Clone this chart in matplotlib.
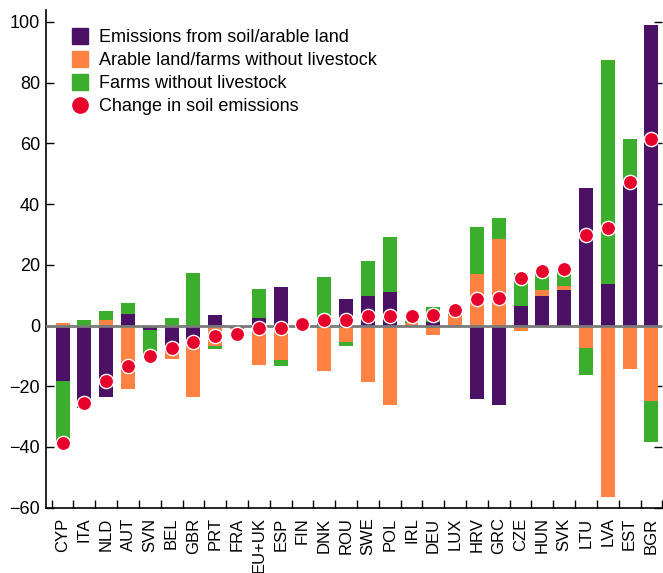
import matplotlib
matplotlib.use("Agg")
import matplotlib.pyplot as plt
import numpy as np
from matplotlib.lines import Line2D
from matplotlib import font_manager

names = [f.name for f in font_manager.fontManager.ttflist]
fam = "Liberation Sans Narrow" if "Liberation Sans Narrow" in names else "Liberation Sans"
plt.rcParams['font.family'] = [fam, 'DejaVu Sans']

countries = ["CYP", "ITA", "NLD", "AUT", "SVN", "BEL", "GBR", "PRT", "FRA", "EU+UK",
             "ESP", "FIN", "DNK", "ROU", "SWE", "POL", "IRL", "DEU", "LUX", "HRV",
             "GRC", "CZE", "HUN", "SVK", "LTU", "LVA", "EST", "BGR"]
soil = [-18.2, -27.3, -23.5, 3.9, -1.4, -8.6, -5.3, 3.3, -0.7, 2.6,
        12.8, 0.3, 0.5, 8.8, 9.8, 11.1, -0.4, 1.3, -0.4, -24.1,
        -26.2, 6.5, 9.8, 11.8, 45.4, 13.8, 47.3, 98.9]
arable = [0.7, 0.0, 1.9, -20.8, 0.0, -2.3, -18.2, -6.6, -0.3, -12.9,
          -11.3, 0.0, -14.9, -5.4, -18.7, -26.1, 0.9, -3.0, 3.5, 17.0,
          28.6, -1.8, 2.0, 1.3, -7.4, -56.4, -14.2, -24.8]
farms = [-20.6, 1.9, 2.9, 3.6, -7.9, 2.5, 17.3, -1.1, -0.3, 9.5,
         -2.2, 0.0, 15.6, -1.5, 11.6, 18.2, 0.6, 4.8, 1.3, 15.6,
         6.9, 10.8, 6.4, 5.3, -8.8, 73.5, 14.0, -13.5]
change = [-38.8, -25.5, -18.2, -13.5, -10.1, -7.5, -5.4, -3.6, -2.8, -0.8,
          -0.8, 0.6, 1.9, 1.9, 3.2, 3.2, 3.0, 3.3, 5.2, 8.6,
          9.2, 15.8, 17.8, 18.6, 29.9, 32.0, 47.3, 61.3]
yticks = [-60, -40, -20, 0, 20, 40, 60, 80, 100]

labels = ["Emissions from soil/arable land", "Arable land/farms without livestock",
          "Farms without livestock", "Change in soil emissions"]
colors = ["#4a1164", "#ff8243", "#3bae2e"]
dot_color = "#e8002d"

fig = plt.figure(figsize=(6.63, 5.73), dpi=100)
ax = fig.add_axes([0.069, 0.114, 0.93, 0.869])

x = np.arange(len(countries))
pos_base = np.zeros(len(x))
neg_base = np.zeros(len(x))
w = 0.64
for series, col in zip([soil, arable, farms], colors):
    v = np.array(series)
    pos = np.where(v > 0, v, 0)
    neg = np.where(v < 0, v, 0)
    ax.bar(x, pos, w, bottom=pos_base, color=col, zorder=2, linewidth=0)
    ax.bar(x, neg, w, bottom=neg_base, color=col, zorder=2, linewidth=0)
    pos_base += pos
    neg_base += neg

ax.axhline(0, color="#7a7a7a", lw=2, zorder=3)
ax.scatter(x, change, s=105, color=dot_color, edgecolor="white", linewidth=1.0, zorder=4)

ax.set_xlim(-0.77, len(x) - 0.5)
ax.set_ylim(-60, 104)
ax.set_yticks(yticks)
ax.set_yticklabels([str(t).replace("-", "\u2212") for t in yticks], fontsize=13)
ax.set_xticks(x)
ax.set_xticklabels(countries, rotation=90, fontsize=12)
ax.set_xticks(np.arange(len(x) + 1) - 0.5, minor=True)
ax.tick_params(axis="x", which="major", length=0, pad=7)
ax.tick_params(axis="x", which="minor", direction="in", length=6, width=1)
ax.tick_params(axis="y", direction="in", length=6, width=1, right=True, pad=4)
for s in ["top", "right"]:
    ax.spines[s].set_visible(False)
for s in ["left", "bottom"]:
    ax.spines[s].set_linewidth(1.2)

handles = [Line2D([], [], marker="s", linestyle="none", markersize=11, color=colors[0]),
           Line2D([], [], marker="s", linestyle="none", markersize=11, color=colors[1]),
           Line2D([], [], marker="s", linestyle="none", markersize=11, color=colors[2]),
           Line2D([], [], marker="o", linestyle="none", markersize=11, color=dot_color)]
ax.legend(handles, labels, loc="upper left", bbox_to_anchor=(0.03, 0.975), frameon=False,
          fontsize=13, handlelength=1.0, handletextpad=0.5, labelspacing=0.33, borderaxespad=0)

fig.savefig("out.png", dpi=100)
